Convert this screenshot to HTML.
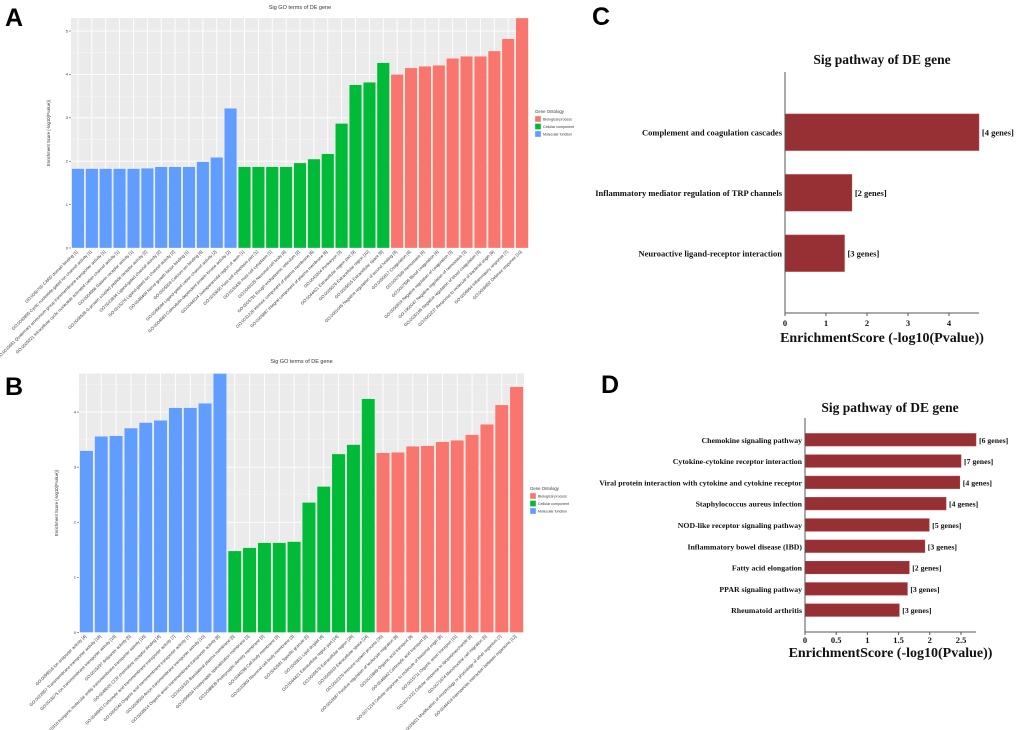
<!DOCTYPE html>
<html><head><meta charset="utf-8">
<style>
body{margin:0;background:#fff;width:1020px;height:730px;overflow:hidden}
svg{display:block}
.lbl{font-family:"Liberation Sans",sans-serif;font-weight:bold;font-size:25px}
.gt{font-family:"Liberation Sans",sans-serif;fill:#333}
.sf{font-family:"Liberation Serif",serif;font-weight:bold;fill:#111}
</style></head>
<body>
<svg id="fig" width="1020" height="730" xmlns="http://www.w3.org/2000/svg">
<text class="lbl" x="5" y="26">A</text>
<text class="lbl" x="5" y="395">B</text>
<text class="lbl" x="592" y="25">C</text>
<text class="lbl" x="601" y="393">D</text>
</svg>
<script>
// ---- Panel A data ----
const aLabels=["GO:0050700 CARD domain binding [1]","GO:0043855 Cyclic nucleotide-gated ion channel activity [1]","GO:0015651 Quaternary ammonium group transmembrane transporter activity [1]","GO:0005221 Intracellular cyclic nucleotide activated cation channel activity [1]","GO:0004966 Galanin receptor activity [1]","GO:0008528 G-protein coupled peptide receptor activity [2]","GO:0022834 Ligand-gated channel activity [2]","GO:0015276 Ligand-gated ion channel activity [2]","GO:0048406 Nerve growth factor binding [1]","GO:0005509 Calcium ion binding [4]","GO:0099094 Ligand-gated cation channel activity [2]","GO:0004683 Calmodulin-dependent protein kinase activity [2]",
"GO:0044224 Juxtaparanodal region of axon [1]","GO:0033655 Host cell cytoplasm part [1]","GO:0030430 Host cell cytoplasm [1]","GO:0043025 Neuronal cell body [4]","GO:0005791 Rough endoplasmic reticulum [2]","GO:0031226 Intrinsic component of plasma membrane [6]","GO:0005887 Integral component of plasma membrane [6]","GO:0043204 Perikaryon [3]","GO:0044421 Extracellular region part [9]","GO:0005576 Extracellular region [10]","GO:0005615 Extracellular space [9]",
"GO:0061045 Negative regulation of wound healing [3]","GO:0050817 Coagulation [4]","GO:0007599 Hemostasis [4]","GO:0007596 Blood coagulation [4]","GO:0050819 Negative regulation of coagulation [3]","GO:1900047 Negative regulation of hemostasis [3]","GO:0030195 Negative regulation of blood coagulation [3]","GO:0002237 Response to molecule of bacterial origin [6]","GO:0006954 Inflammatory response [7]","GO:0006952 Defense response [10]"];
const aValues=[1.83,1.83,1.83,1.83,1.83,1.84,1.87,1.87,1.87,1.99,2.09,3.22,1.87,1.87,1.87,1.87,1.96,2.05,2.17,2.87,3.76,3.82,4.27,4.0,4.15,4.19,4.21,4.37,4.42,4.42,4.54,4.82,5.3];
const aGroups=["MF","MF","MF","MF","MF","MF","MF","MF","MF","MF","MF","MF","CC","CC","CC","CC","CC","CC","CC","CC","CC","CC","CC","BP","BP","BP","BP","BP","BP","BP","BP","BP","BP"];
const aTicks=[0,1,2,3,4,5];
// ---- Panel B data ----
const bLabels=["GO:0099516 Ion antiporter activity [4]","GO:0022857 Transmembrane transporter activity [18]","GO:0015075 Ion transmembrane transporter activity [16]","GO:0015297 Antiporter activity [5]","GO:0015318 Inorganic molecular entity transmembrane transporter activity [16]","GO:0048020 CCR chemokine receptor binding [4]","GO:0046943 Carboxylic acid transmembrane transporter activity [7]","GO:0005342 Organic acid transmembrane transporter activity [7]","GO:0008509 Anion transmembrane transporter activity [10]","GO:0008514 Organic anion transmembrane transporter activity [8]",
"GO:0016323 Basolateral plasma membrane [5]","GO:0099634 Postsynaptic specialization membrane [3]","GO:0098839 Postsynaptic density membrane [3]","GO:0044298 Cell body membrane [3]","GO:0032809 Neuronal cell body membrane [3]","GO:0042581 Specific granule [5]","GO:0005811 Lipid droplet [4]","GO:0044421 Extracellular region part [24]","GO:0005576 Extracellular region [26]","GO:0005615 Extracellular space [24]",
"GO:0002376 Immune system process [30]","GO:0002687 Positive regulation of leukocyte migration [8]","GO:0015849 Organic acid transport [9]","GO:0046942 Carboxylic acid transport [8]","GO:0071219 Cellular response to molecule of bacterial origin [8]","GO:0015711 Organic anion transport [11]","GO:0071222 Cellular response to lipopolysaccharide [8]","GO:0071674 Mononuclear cell migration [5]","GO:0035821 Modification of morphology or physiology of other organism [7]","GO:0044419 Interspecies interaction between organisms [12]"];
const bValues=[3.3,3.56,3.57,3.71,3.81,3.85,4.08,4.08,4.16,4.7,1.48,1.54,1.63,1.63,1.65,2.36,2.65,3.24,3.41,4.24,3.26,3.27,3.38,3.39,3.46,3.49,3.59,3.78,4.13,4.46];
const bGroups=["MF","MF","MF","MF","MF","MF","MF","MF","MF","MF","CC","CC","CC","CC","CC","CC","CC","CC","CC","CC","BP","BP","BP","BP","BP","BP","BP","BP","BP","BP"];
const bTicks=[0,1,2,3,4];
// ---- Panel C data ----
const cLabels=["Complement and coagulation cascades","Inflammatory mediator regulation of TRP channels","Neuroactive ligand-receptor interaction"];
const cValues=[4.73,1.63,1.45];
const cGenes=["[4 genes]","[2 genes]","[3 genes]"];
const cTicks=[0,1,2,3,4];
// ---- Panel D data ----
const dLabels=["Chemokine signaling pathway","Cytokine-cytokine receptor interaction","Viral protein interaction with cytokine and cytokine receptor","Staphylococcus aureus infection","NOD-like receptor signaling pathway","Inflammatory bowel disease (IBD)","Fatty acid elongation","PPAR signaling pathway","Rheumatoid arthritis"];
const dValues=[2.74,2.5,2.48,2.26,1.99,1.92,1.67,1.64,1.51];
const dGenes=["[6 genes]","[7 genes]","[4 genes]","[4 genes]","[5 genes]","[3 genes]","[2 genes]","[3 genes]","[3 genes]"];
const dTicks=["0","0.5","1","1.5","2","2.5"];

const NS="http://www.w3.org/2000/svg";
const svg=document.getElementById('fig');
const COL={BP:"#F8766D",CC:"#00BA38",MF:"#619CFF"};
function mk(tag,attrs,parent,txt){const e=document.createElementNS(NS,tag);for(const k in attrs)e.setAttribute(k,attrs[k]);if(txt!==undefined)e.textContent=txt;(parent||svg).appendChild(e);return e;}

function goPanel(id,labels,values,groups,ticks,L,R,T,B,ymax,titleY,legY){
  const g=mk('g',{});
  
  
  const y=v=>B-(v/ymax)*(B-T);
  const n=values.length, step=(R-L)/n;
  const x=i=>L+step*(i+0.5);
  const bg=mk('rect',{x:L,y:T,width:R-L,height:B-T,fill:"#EBEBEB"},g);
  
  
  for(let v=0.5;v<ymax;v+=1) mk('line',{x1:L,x2:R,y1:y(v),y2:y(v),stroke:"#F5F5F5","stroke-width":0.5},g);
  ticks.forEach(t=>{mk('line',{x1:L,x2:R,y1:y(t),y2:y(t),stroke:"#fff","stroke-width":0.9},g);
    const tl=mk('text',{x:L-3,y:y(t)+1.3,"font-size":4,"text-anchor":"end",class:"gt"},g,String(t));
    
    
    mk('line',{x1:L-2,x2:L,y1:y(t),y2:y(t),stroke:"#333","stroke-width":0.5},g);});
  for(let i=0;i<n;i++) mk('line',{x1:x(i),x2:x(i),y1:T,y2:B,stroke:"#fff","stroke-width":0.9},g);
  for(let i=0;i<n;i++){
    const bw=step*0.9;
    const r=mk('rect',{x:x(i)-bw/2,y:y(values[i]),width:bw,height:B-y(values[i]),fill:COL[groups[i]],stroke:"#fff","stroke-width":0.3},g);
    
    
    const t=mk('text',{x:x(i),y:B+4,"font-size":4.2,"text-anchor":"end",class:"gt",transform:`rotate(-45 ${x(i)} ${B+4})`},g,labels[i]);
    
    
  }
  const tt=mk('text',{x:(L+R)/2,y:titleY,"font-size":5.5,"text-anchor":"middle",class:"gt"},g,"Sig GO terms of DE gene");
  
  
  const yx=L-21, yc=(T+B)/2;
  const yt=mk('text',{x:yx,y:yc,"font-size":4.3,"text-anchor":"middle",class:"gt",transform:`rotate(-90 ${yx} ${yc})`},g,"Enrichment Score (-log10(Pvalue))");
  
  
  const lx=R+6;
  const lt=mk('text',{x:lx,y:legY,"font-size":4.3,class:"gt"},g,"Gene Ontology");
  
  
  [["BP","Biological process"],["CC","Cellular component"],["MF","Molecular function"]].forEach((p,k)=>{
    const ky=legY+3+k*7.5;
    const e=mk('rect',{x:lx,y:ky,width:6,height:6,fill:COL[p[0]],stroke:"#eee","stroke-width":0.4},g);
    
    
    mk('text',{x:lx+8,y:ky+4.5,"font-size":3.6,class:"gt"},g,p[1]);
  });
}
goPanel('a',aLabels,aValues,aGroups,aTicks,71,529,18,248,5.3,9,113);
goPanel('b',bLabels,bValues,bGroups,bTicks,79,524,373.5,632.5,4.7,363,490);

function kegg(id,labels,values,genes,ticks,tickVals,x0,unit,axEnd,T,B,barTop,barStep,barH,lblSize,titleY,tickY,axTitleY,titleX){
  const g=mk('g',{});
  
  
  const x=v=>x0+v*unit;
  const tt=mk('text',{x:titleX,y:titleY,"font-size":13.5,"text-anchor":"middle",class:"sf"},g,"Sig pathway of DE gene");
  
  
  labels.forEach((l,i)=>{
    const yt=barTop+i*barStep;
    const r=mk('rect',{x:x0,y:yt,width:x(values[i])-x0,height:barH,fill:"#963034",stroke:"#b33a3e","stroke-width":0.6},g);
    
    
    const t=mk('text',{x:x0-3,y:yt+barH/2+3,"font-size":lblSize,"text-anchor":"end",class:"sf"},g,l);
    
    
    const gn=mk('text',{x:x(values[i])+3,y:yt+barH/2+3,"font-size":lblSize,class:"sf"},g,genes[i]);
    
    
  });
  mk('line',{x1:x0,x2:x0,y1:T,y2:B,stroke:"#555","stroke-width":1},g);
  mk('line',{x1:x0,x2:axEnd,y1:B,y2:B,stroke:"#555","stroke-width":1},g);
  ticks.forEach((t,k)=>{
    const xv=x(tickVals[k]);
    mk('line',{x1:xv,x2:xv,y1:B,y2:B+3,stroke:"#555","stroke-width":1},g);
    const tl=mk('text',{x:xv,y:tickY,"font-size":8.5,"text-anchor":"middle",class:"sf"},g,String(t));
    
    
  });
  const at=mk('text',{x:(x0+axEnd)/2,y:axTitleY,"font-size":14,"text-anchor":"middle",class:"sf"},g,"EnrichmentScore (-log10(Pvalue))");
  
  
}
kegg('c',cLabels,cValues,cGenes,cTicks,cTicks,785,41,979,72,313,114,60.5,36.5,8.5,64,326,342,882);
kegg('d',dLabels,dValues,dGenes,dTicks,dTicks.map(Number),805,62.4,976,418,632,433.5,21.3,12.5,7.8,412,643,657,890);
</script>
</body></html>
